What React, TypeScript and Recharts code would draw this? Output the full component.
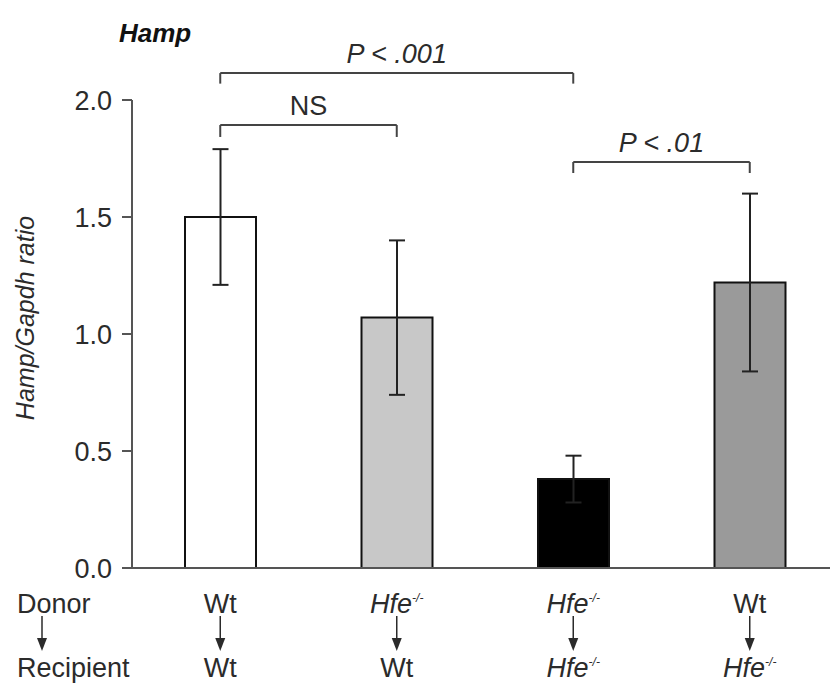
import { BarChart, Bar, XAxis, YAxis, ErrorBar, Cell, ReferenceLine } from 'recharts';

const groups = ['g1', 'g2', 'g3', 'g4'];
const donors = ['Wt', 'Hfe', 'Hfe', 'Wt'];
const recipients = ['Wt', 'Wt', 'Hfe', 'Hfe'];
const ratios = [1.5, 1.07, 0.38, 1.22];
const errors = [0.29, 0.33, 0.1, 0.38];
const fills = ['#ffffff', '#c8c8c8', '#000000', '#9a9a9a'];
const yTicks = [0, 0.5, 1, 1.5, 2];

// significance brackets: from group, to group, bar height, leg end, label
const brackets = [
  { from: 'g1', to: 'g3', y: 2.115, leg: 2.07, label: 'P < .001' },
  { from: 'g1', to: 'g2', y: 1.893, leg: 1.842, label: 'NS' },
  { from: 'g3', to: 'g4', y: 1.735, leg: 1.688, label: 'P < .01' },
];

const data = groups.map((g, i) => ({
  group: g,
  donor: donors[i],
  recipient: recipients[i],
  ratio: ratios[i],
  err: errors[i],
}));

const font = '"Liberation Sans", Arial, Helvetica, sans-serif';
const ink = '#2b2b2b';
const fs = 27;

function Genotype({ x, y, name }: { x: number; y: number; name: string }) {
  if (name === 'Wt') {
    return (
      <text x={x} y={y} textAnchor="middle" fontSize={fs} fill={ink} fontFamily={font}>
        Wt
      </text>
    );
  }
  return (
    <text x={x} y={y} textAnchor="middle" fontSize={fs} fill={ink} fontFamily={font} fontStyle="italic">
      Hfe
      <tspan fontSize={12} dy={-11}>-/-</tspan>
    </text>
  );
}

function Arrow({ x, y }: { x: number; y: number }) {
  return (
    <g>
      <line x1={x} y1={y} x2={x} y2={y + 26} stroke={ink} strokeWidth={1.5} />
      <path d={`M${x - 5},${y + 22} L${x + 5},${y + 22} L${x},${y + 35} Z`} fill={ink} />
    </g>
  );
}

function GroupTick(props: any) {
  const { x, y, payload, index } = props;
  const row = data[index] ?? data.find((d) => d.group === payload.value);
  return (
    <g>
      {index === 0 && (
        <g>
          <text x={17} y={y + 37} fontSize={fs} fill={ink} fontFamily={font}>Donor</text>
          <Arrow x={42} y={y + 40} />
          <text x={17} y={y + 101} fontSize={fs} fill={ink} fontFamily={font}>Recipient</text>
        </g>
      )}
      <Genotype x={x} y={y + 37} name={row.donor} />
      <Arrow x={x} y={y + 40} />
      <Genotype x={x} y={y + 101} name={row.recipient} />
    </g>
  );
}

function BracketLabel(props: any) {
  const { viewBox, value } = props;
  const cx = viewBox.x + viewBox.width / 2;
  return (
    <text x={cx} y={viewBox.y - 10} textAnchor="middle" fontSize={fs} fill={ink} fontFamily={font}
      fontStyle={value === 'NS' ? 'normal' : 'italic'}>
      {value}
    </text>
  );
}

export default function App() {
  return (
    <div style={{ position: 'absolute', left: 0, top: 0, width: 830, height: 684, overflow: 'hidden', background: '#fff' }}>
      <BarChart
        width={845}
        height={684}
        data={data}
        margin={{ top: 100, right: 7, bottom: 0, left: 0 }}
        barSize={71}
      >
        <XAxis
          dataKey="group"
          height={116}
          axisLine={{ stroke: '#555', strokeWidth: 2 }}
          tickLine={false}
          tick={<GroupTick />}
          interval={0}
        />
        <YAxis
          width={132}
          domain={[0, 2]}
          ticks={yTicks}
          allowDataOverflow
          tickFormatter={(v: number) => v.toFixed(1)}
          axisLine={{ stroke: '#555', strokeWidth: 2 }}
          tickLine={{ stroke: '#555', strokeWidth: 2 }}
          tickSize={10}
          tickMargin={10}
          tick={{ fontSize: fs, fill: ink, fontFamily: font }}
        />
        {brackets.map((b) => (
          <ReferenceLine
            key={b.label + 'h'}
            segment={[{ x: b.from, y: b.y }, { x: b.to, y: b.y }]}
            stroke="#444"
            strokeWidth={2}
            ifOverflow="visible"
            label={<BracketLabel value={b.label} />}
          />
        ))}
        {brackets.map((b) => (
          <ReferenceLine
            key={b.label + 'l'}
            segment={[{ x: b.from, y: b.y }, { x: b.from, y: b.leg }]}
            stroke="#444"
            strokeWidth={2}
            ifOverflow="visible"
          />
        ))}
        {brackets.map((b) => (
          <ReferenceLine
            key={b.label + 'r'}
            segment={[{ x: b.to, y: b.y }, { x: b.to, y: b.leg }]}
            stroke="#444"
            strokeWidth={2}
            ifOverflow="visible"
          />
        ))}
        <Bar dataKey="ratio" stroke="#111" strokeWidth={2} isAnimationActive={false}>
          {data.map((d, i) => (
            <Cell key={d.group} fill={fills[i]} />
          ))}
          <ErrorBar dataKey="err" width={8} stroke="#222" strokeWidth={2} isAnimationActive={false} />
        </Bar>
      </BarChart>
      <svg width={830} height={684} style={{ position: 'absolute', left: 0, top: 0, pointerEvents: 'none' }}>
        <text x={119} y={42} fontSize={26} fontWeight="bold" fontStyle="italic" fill="#111" fontFamily={font}>
          Hamp
        </text>
        <text
          transform="translate(34,318) rotate(-90)"
          textAnchor="middle"
          fontSize={25}
          fontStyle="italic"
          fill={ink}
          fontFamily={font}
        >
          Hamp/Gapdh ratio
        </text>
      </svg>
    </div>
  );
}
